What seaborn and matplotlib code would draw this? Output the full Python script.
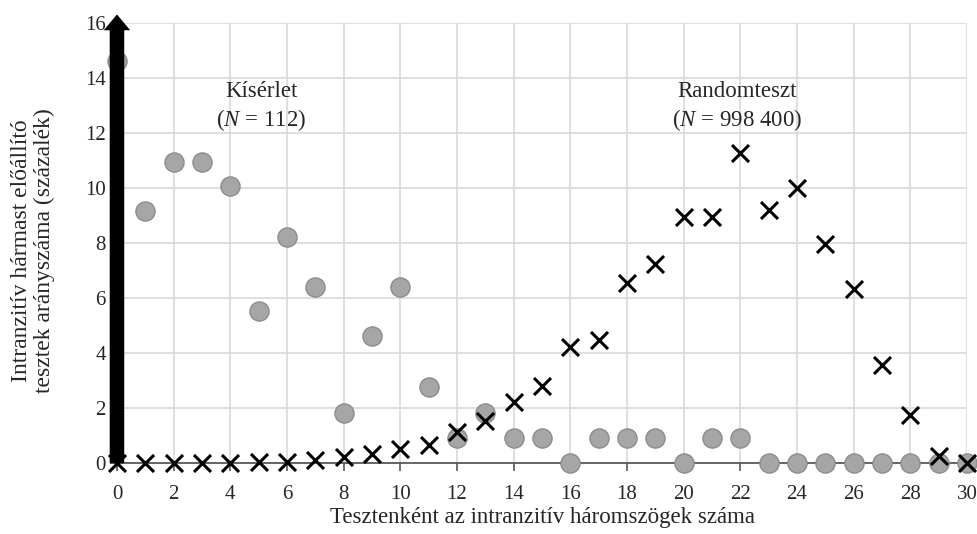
import numpy as np
import pandas as pd
import seaborn as sns
import matplotlib.pyplot as plt

# Number of intransitive triangles per test
triangles = list(range(0, 31))

# Experiment (N = 112), percentage of tests
experiment_pct = [14.6, 9.15, 10.95, 10.95, 10.05, 5.5, 8.2, 6.4, 1.8, 4.6,
                  6.4, 2.75, 0.9, 1.8, 0.9, 0.9, 0.0, 0.9, 0.9, 0.9,
                  0.0, 0.9, 0.9, 0.0, 0.0, 0.0, 0.0, 0.0, 0.0, 0.0, 0.0]

# Random test (N = 998 400), percentage of tests
random_pct = [0.0, 0.0, 0.0, 0.0, 0.0, 0.04, 0.03, 0.1, 0.2, 0.3,
              0.5, 0.65, 1.12, 1.52, 2.22, 2.8, 4.22, 4.46, 6.55, 7.22,
              8.92, 8.95, 11.27, 9.2, 10.0, 7.97, 6.3, 3.54, 1.74, 0.25, 0.0]

x_ticks = list(range(0, 31, 2))
y_ticks = list(range(0, 17, 2))


def main():
    sns.set_style("whitegrid")
    plt.rcParams["font.family"] = ["Liberation Serif", "DejaVu Serif"]
    plt.rcParams["mathtext.fontset"] = "custom"
    plt.rcParams["mathtext.rm"] = "Liberation Serif"
    plt.rcParams["mathtext.it"] = "Liberation Serif:italic"

    df = pd.DataFrame({"triangles": triangles,
                       "experiment": experiment_pct,
                       "random": random_pct})

    fig = plt.figure(figsize=(9.78, 5.34), dpi=100)
    ax = fig.add_axes([0.1196, 0.1335, 0.8692, 0.824])

    sns.scatterplot(x="triangles", y="experiment", data=df, ax=ax,
                    color="#a6a6a6", edgecolor="#8c8c8c", linewidth=1,
                    s=190, marker="o", zorder=3, clip_on=False)
    sns.scatterplot(x="triangles", y="random", data=df, ax=ax,
                    color="black", marker="x", s=150, linewidth=2.2,
                    zorder=4, clip_on=False)

    # thick arrow as the y axis
    ax.annotate("", xy=(0, 16.3), xytext=(0, -0.02),
                arrowprops=dict(arrowstyle="simple,head_width=1.0,"
                                           "head_length=0.6,tail_width=0.55",
                                lw=0, color="black", shrinkA=0, shrinkB=0,
                                mutation_scale=19),
                annotation_clip=False, zorder=5)

    ax.set_xlim(0, 30)
    ax.set_ylim(0, 16)
    ax.set_xticks(x_ticks)
    ax.set_yticks(y_ticks)
    ax.grid(True, color="#d9d9d9", linewidth=1.2)
    ax.set_axisbelow(True)

    for side in ["top", "right", "left"]:
        ax.spines[side].set_visible(False)
    ax.spines["bottom"].set_color("#595959")
    ax.spines["bottom"].set_linewidth(1.3)
    ax.spines["bottom"].set_zorder(2.5)

    ax.tick_params(axis="x", which="major", labelsize=15, length=6,
                   width=1.2, color="#595959", direction="out", pad=10,
                   bottom=True)
    ax.tick_params(axis="y", which="major", labelsize=15, length=5,
                   width=1.2, color="#595959", direction="out", pad=3,
                   left=True)

    ax.set_xlabel("Tesztenként az intranzitív háromszögek száma",
                  fontsize=16.5, labelpad=2)
    ax.set_ylabel("")
    fig.text(33 / 978, 1 - 251 / 534,
             "Intranzitív hármast előállító\ntesztek arányszáma (százalék)",
             fontsize=17, rotation=90, ha="center", va="center",
             linespacing=1.1)

    ax.text(5.1, 12.93, "Kísérlet\n($\\mathit{N}$ = 112)", fontsize=16.5,
            ha="center", va="center", linespacing=1.25)
    ax.text(21.9, 12.93, "Randomteszt\n($\\mathit{N}$ = 998 400)",
            fontsize=16.5, ha="center", va="center", linespacing=1.25)

    fig.savefig("out.png", dpi=100)


if __name__ == "__main__":
    main()
